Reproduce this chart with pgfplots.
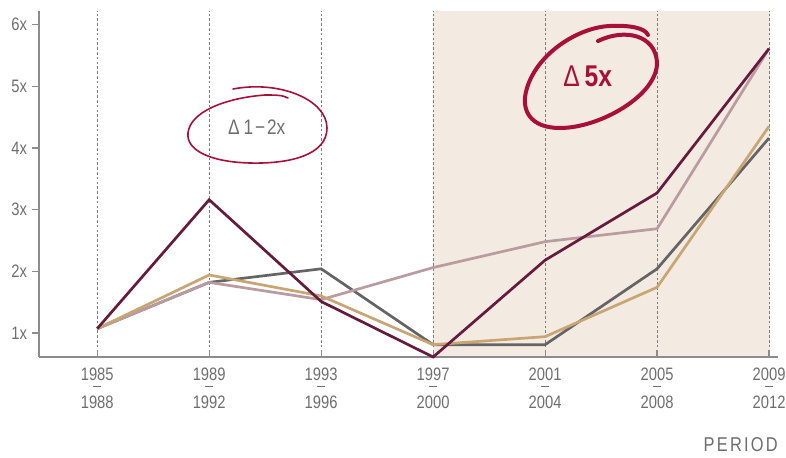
\documentclass[border=0pt]{standalone}
\usepackage{fontspec}
\setmainfont{Liberation Sans}[FakeStretch=0.82]
\usepackage{pgfplots}
\pgfplotsset{compat=1.18}
\definecolor{maroon}{RGB}{102,26,61}
\definecolor{lgray}{RGB}{100,100,100}
\definecolor{tan}{RGB}{200,165,115}
\definecolor{mauve}{RGB}{185,155,160}
\definecolor{bgshade}{RGB}{243,234,225}
\definecolor{annred}{RGB}{168,16,58}
\definecolor{textgray}{RGB}{110,110,110}
\definecolor{axisgray}{RGB}{140,140,140}
\definecolor{gridgray}{RGB}{125,125,125}
\newcommand{\per}[2]{#1\\[-7.5pt]\rule{4pt}{0.5pt}\\[-0.1pt]#2}
\begin{document}
\begin{tikzpicture}
\begin{axis}[
  set layers,
  scale only axis, width=369.5pt, height=173pt,
  xmin=-0.52, xmax=6.08, ymin=0.61, ymax=6.22,
  axis lines=left,
  axis line style={-, draw=axisgray, line width=0.6pt},
  clip=false,
  xtick={0,1,2,3,4,5,6},
  xticklabels={{\per{1985}{1988}},{\per{1989}{1992}},{\per{1993}{1996}},{\per{1997}{2000}},{\per{2001}{2004}},{\per{2005}{2008}},{\per{2009}{2012}}},
  ytick={1,2,3,4,5,6},
  yticklabels={1x,2x,3x,4x,5x,6x},
  tick align=inside, major tick length=3.5pt,
  tick style={draw=axisgray, line width=0.6pt},
  every major y tick/.append style={xshift=-3.5pt},
  xmajorgrids,
  major grid style={draw=gridgray, dash pattern=on 1.3pt off 1.1pt, line width=0.5pt},
  xticklabel style={align=center, font=\fontsize{9}{10.8}\selectfont, text=textgray, yshift=-2pt},
  yticklabel style={font=\fontsize{9}{10.8}\selectfont, text=textgray, xshift=-2.5pt},
]
\begin{pgfonlayer}{axis background}
\fill[fill=bgshade] (axis cs:3,0.61) rectangle (axis cs:6.01,6.22);
\end{pgfonlayer}
\addplot[lgray, line width=1.35pt, mark=none] coordinates {(0,1.07)(1,1.82)(2,2.04)(3,0.81)(4,0.81)(5,2.04)(6,4.16)};
\addplot[mauve, line width=1.35pt, mark=none] coordinates {(0,1.07)(1,1.82)(2,1.54)(3,2.06)(4,2.48)(5,2.69)(6,5.61)};
\addplot[tan, line width=1.35pt, mark=none] coordinates {(0,1.07)(1,1.94)(2,1.60)(3,0.81)(4,0.94)(5,1.74)(6,4.35)};
\addplot[maroon, line width=1.35pt, mark=none] coordinates {(0,1.07)(1,3.16)(2,1.51)(3,0.61)(4,2.18)(5,3.27)(6,5.61)};
\node[font=\fontsize{10.5}{12}\selectfont, text=textgray] at (axis cs:1.424,4.34) {Δ\kern2pt 1\kern1pt−\kern1pt2x};
\node[font=\fontsize{15}{17}\selectfont, text=annred] at (axis cs:4.38,5.156) {Δ\kern2.5pt\textbf{5x}};
\end{axis}
\node[anchor=base east, inner sep=0pt, font=\fontsize{10}{12}\selectfont\addfontfeature{LetterSpace=11}, text=textgray] at ([yshift=-47pt]current axis.south east) {PERIOD};
\begin{scope}[shift={(current axis.south west)}, x=0.5pt, y=-0.5pt, shift={(-39,-357)}]
\draw[annred, line width=0.8pt, line cap=round] (233,89) .. controls (280,80) and (327,100) .. (327,128) .. controls (327,155) and (290,164) .. (250,163) .. controls (210,162) and (186,150) .. (188,133) .. controls (190,112) and (225,98) .. (265,95) .. controls (275,95) and (283,95) .. (288,98);
\draw[annred, line width=2pt, line cap=round] (598,41) .. controls (625,28) and (655,35) .. (657,62) .. controls (658,95) and (600,128) .. (560,128) .. controls (530,128) and (520,110) .. (527,88) .. controls (538,52) and (580,27) .. (610,26) .. controls (630,25) and (645,28) .. (648,35);
\pgfresetboundingbox
\path (0,0) rectangle (786,457);
\end{scope}
\end{tikzpicture}
\end{document}
